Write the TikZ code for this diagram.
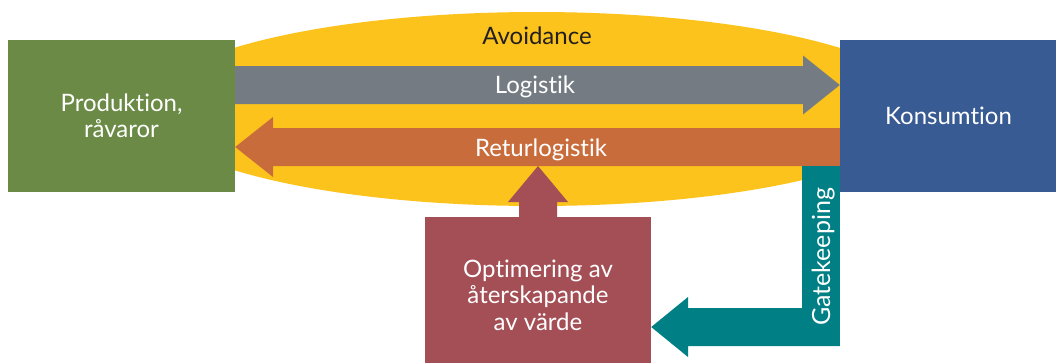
\documentclass[tikz,border=0pt]{standalone}
\usepackage{fontspec}
\setmainfont{Lato}[RawFeature={-liga;-dlig}]
\usetikzlibrary{calc,shapes.geometric}
\definecolor{cgreen}{HTML}{6A8A46}
\definecolor{cblue}{HTML}{385B94}
\definecolor{cyellow}{HTML}{FCC31C}
\definecolor{cgray}{HTML}{747B82}
\definecolor{corange}{HTML}{C96C3C}
\definecolor{cred}{HTML}{A44F55}
\definecolor{cteal}{HTML}{008085}
\definecolor{cdark}{HTML}{231F20}
\begin{document}
\begin{tikzpicture}[x=1pt,y=-1pt,
  box/.style={rectangle,draw=none,inner sep=0pt,text=white,align=center,
    font=\fontsize{24}{26.5}\selectfont},
  lbl/.style={inner sep=0pt,font=\fontsize{24}{26.5}\selectfont}]
\useasboundingbox (0,0) rectangle (1056,362);
% ellipse
\node[ellipse,fill=cyellow,minimum width=780pt,minimum height=194pt,inner sep=0pt] (avoid) at (537,109) {};
\node[lbl,text=cdark,anchor=base] (avoidt) at (537,44) {Avoidance};
% boxes
\node[box,fill=cgreen,minimum width=227pt,minimum height=152pt] (prod) at (121.5,116) {Produktion,\\råvaror};
\node[box,fill=cblue,minimum width=217pt,minimum height=152pt] (kons) at (948.5,116) {Konsumtion};
\node[box,fill=cred,minimum width=226pt,minimum height=146pt] (opt) at (538,290) {};
\node[lbl,text=white,align=center] (optt) at (538,295) {Optimering av\\återskapande\\av värde};
% Logistik arrow (gray)
\fill[cgray] (prod.east |- 0,66) -- (803,66) -- (803,55.5) -- (kons.west |- 0,85) -- (803,114.5) -- (803,104) -- (prod.east |- 0,104) -- cycle;
\node[lbl,text=white,anchor=base] (logt) at (535,93) {Logistik};
% Returlogistik arrow (orange)
\fill[corange] (kons.west |- 0,128) -- (273,128) -- (273,117) -- (prod.east |- 0,147) -- (273,177) -- (273,166) -- (kons.west |- 0,166) -- cycle;
\node[lbl,text=white,anchor=base] (rett) at (541,156) {Returlogistik};
% Optimering arrow (red) up to Returlogistik
\coordinate (rtip) at (538,166);
\fill[cred] (519,0 |- opt.north) -- (519,202) -- (508,202) -- (rtip) -- (568,202) -- (557,202) -- (557,0 |- opt.north) -- cycle;
% Gatekeeping arrow (teal)
\fill[cteal] (802,166) -- (kons.west |- 0,166) -- (kons.west |- 0,346) -- (688,346) -- (688,357) -- (opt.east |- 0,327) -- (688,297) -- (688,308) -- (802,308) -- cycle;
\node[lbl,text=white,rotate=90,anchor=base west,font=\fontsize{25}{27}\selectfont] (gatet) at (830,326) {Gatekeeping};
\end{tikzpicture}
\end{document}
